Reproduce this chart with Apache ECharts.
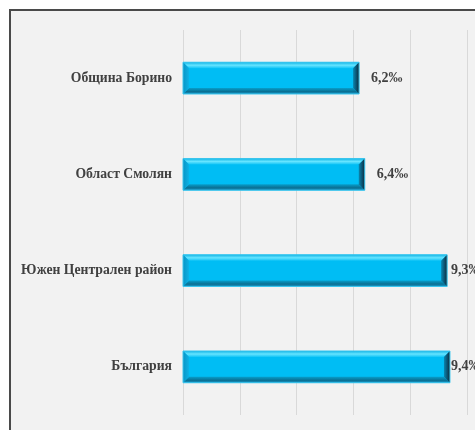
<!DOCTYPE html>
<html>
<head>
<meta charset="utf-8">
<script src="https://cdn.jsdelivr.net/npm/echarts@6/dist/echarts.min.js"></script>
<style>
html,body{margin:0;padding:0;background:#ffffff;width:475px;height:430px;overflow:hidden;}
#frame{position:absolute;left:9px;top:9px;width:520px;height:480px;background:#f2f2f2;border:2px solid #4a4a4a;box-sizing:border-box;}
#chart{position:absolute;left:0;top:0;width:475px;height:430px;}
</style>
</head>
<body>
<div id="frame"></div>
<div id="chart"></div>
<script>
var categories = ['Община Борино', 'Област Смолян', 'Южен Централен район', 'България'];
var values = [6.2, 6.4, 9.3, 9.4];
var unit = '‰';

var chart = echarts.init(document.getElementById('chart'), null, {renderer: 'canvas'});

function fmt(v){ return v.toFixed(1).replace('.', ',') + unit; }

var seriesData = values.map(function(v, i){ return [v, i]; });

var option = {
  backgroundColor: 'transparent',
  animation: false,
  grid: {left: 183, top: 30, right: 8, bottom: 15, containLabel: false},
  xAxis: {
    type: 'value', min: 0, max: 10, interval: 2,
    axisLabel: {show: false}, axisLine: {show: false}, axisTick: {show: false},
    splitLine: {show: true, lineStyle: {color: '#d9d9d9', width: 1}}
  },
  yAxis: {
    type: 'category', data: categories, inverse: true,
    axisLine: {show: false}, axisTick: {show: false},
    axisLabel: {color: '#404040', fontFamily: 'Liberation Serif', fontWeight: 'bold', fontSize: 13.7, margin: 11}
  },
  series: [{
    type: 'custom',
    data: seriesData,
    encode: {x: 0, y: 1},
    clip: false,
    renderItem: function(params, api){
      var v = api.value(0), cat = api.value(1);
      var s = api.coord([0, cat]);
      var e = api.coord([v, cat]);
      var h = api.size([0, 1])[1] * 0.33;
      var x0 = s[0], x1 = e[0], y0 = s[1] - h / 2, y1 = s[1] + h / 2, b = 6;
      var lx = Math.min(x1 + 12, 451);
      return {
        type: 'group',
        children: [
          {type: 'rect', shape: {x: x0, y: y0, width: x1 - x0, height: y1 - y0}, style: {fill: '#00bdf4'}},
          {type: 'polygon', shape: {points: [[x0, y0], [x1, y0], [x1 - b, y0 + b], [x0 + b, y0 + b]]},
            style: {fill: new echarts.graphic.LinearGradient(0, 0, 0, 1, [{offset: 0, color: '#10b4e6'}, {offset: 0.5, color: '#66e4ff'}, {offset: 1, color: '#12c4f6'}])}},
          {type: 'polygon', shape: {points: [[x0, y1], [x1, y1], [x1 - b, y1 - b], [x0 + b, y1 - b]]},
            style: {fill: new echarts.graphic.LinearGradient(0, 0, 0, 1, [{offset: 0, color: '#079ecb'}, {offset: 0.6, color: '#0a6f92'}, {offset: 1, color: '#1a9ccc'}])}},
          {type: 'polygon', shape: {points: [[x0, y0], [x0 + b, y0 + b], [x0 + b, y1 - b], [x0, y1]]},
            style: {fill: new echarts.graphic.LinearGradient(0, 0, 1, 0, [{offset: 0, color: '#0a94c4'}, {offset: 1, color: '#0cb2e6'}])}},
          {type: 'polygon', shape: {points: [[x1, y0], [x1 - b, y0 + b], [x1 - b, y1 - b], [x1, y1]]},
            style: {fill: new echarts.graphic.LinearGradient(0, 0, 1, 0, [{offset: 0, color: '#0a86b0'}, {offset: 0.6, color: '#0b4f6c'}, {offset: 1, color: '#0e2a38'}])}},
          {type: 'rect', shape: {x: x0, y: y0, width: x1 - x0, height: y1 - y0}, style: {fill: null, stroke: '#3cc6ee', lineWidth: 1}},
          {type: 'text', style: {x: lx, y: s[1], text: fmt(v), fill: '#404040', font: 'bold 14px "Liberation Serif"', verticalAlign: 'middle', align: 'left'}}
        ]
      };
    }
  }]
};
chart.setOption(option);
</script>
</body>
</html>
